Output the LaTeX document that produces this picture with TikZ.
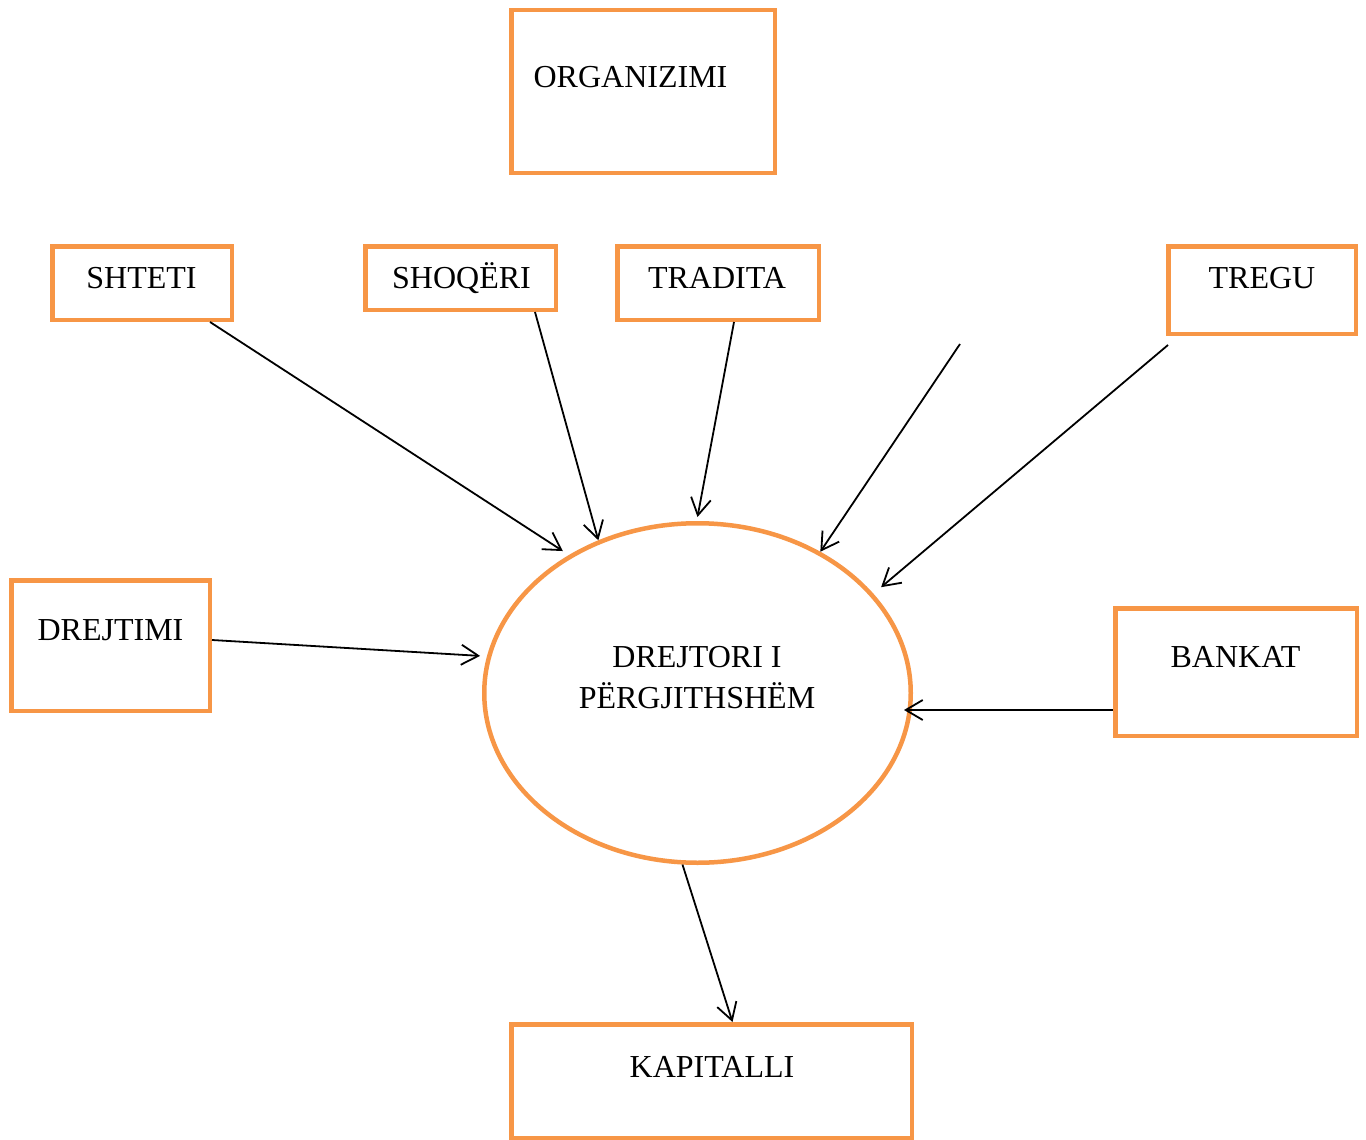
\documentclass[tikz,border=0pt]{standalone}
\usepackage{fontspec}
\setmainfont{Liberation Serif}
\usetikzlibrary{arrows.meta,shapes.geometric}
\definecolor{boxorange}{HTML}{F79646}
\begin{document}
\begin{tikzpicture}[x=1pt,y=-1pt,
	box/.style={draw=boxorange,line width=4.5pt,rectangle,inner sep=0pt},
	txt/.style={anchor=base,inner sep=0pt,font=\fontsize{32}{41}\selectfont},
	conn/.style={line width=1.8pt,-{Straight Barb[length=17pt,width=20pt]}}]
	\useasboundingbox[fill=white] (0,0) rectangle (1366,1140);
	% boxes
	\node[box,minimum width=263.5pt,minimum height=162.5pt] (organizimi) at (643,91.5) {};
	\node[box,minimum width=179.5pt,minimum height=73.5pt] (shteti) at (142,283) {};
	\node[box,minimum width=190.5pt,minimum height=63.5pt] (shoqeri) at (460.5,278) {};
	\node[box,minimum width=201.5pt,minimum height=73.5pt] (tradita) at (718,283) {};
	\node[box,minimum width=187.5pt,minimum height=87.5pt] (tregu) at (1262,290) {};
	\node[box,minimum width=198.5pt,minimum height=130.5pt] (drejtimi) at (110.5,645.5) {};
	\node[box,minimum width=241.5pt,minimum height=127.5pt] (bankat) at (1236,672) {};
	\node[box,minimum width=400.5pt,minimum height=113.5pt] (kapitalli) at (711.5,1081) {};
	\node[draw=boxorange,line width=4.5pt,ellipse,inner sep=0pt,
	  minimum width=426.5pt,minimum height=339.5pt] (drejtori) at (697.5,693) {};
	% texts
	\node[txt] (organizimi-t) at (630.5,87.6) {ORGANIZIMI};
	\node[txt] (shteti-t) at (141.5,288) {SHTETI};
	\node[txt] (shoqeri-t) at (461.5,288) {SHOQËRI};
	\node[txt] (tradita-t) at (717,288) {TRADITA};
	\node[txt] (tregu-t) at (1262,288) {TREGU};
	\node[txt] (drejtimi-t) at (110.5,640.6) {DREJTIMI};
	\node[txt] (bankat-t) at (1235.5,667.6) {BANKAT};
	\node[txt] (kapitalli-t) at (712,1077.6) {KAPITALLI};
	\node[txt,anchor=center,align=center] (drejtori-t) at (697,677.5)
	  {DREJTORI I\\PËRGJITHSHËM};
	% connectors
	\coordinate (free) at (960,344);
	\draw[conn] ([xshift=68pt]shteti.south) -- ([xshift=-6pt,yshift=4pt]drejtori.133);
	\draw[conn] ([xshift=74.5pt]shoqeri.south) -- (drejtori.123.6);
	\draw[conn] ([xshift=16pt]tradita.south) -- ([yshift=4pt]drejtori.90);
	\draw[conn] (free) -- (drejtori.49.6);
	\draw[conn] ([xshift=2pt,yshift=-9pt]tregu.south west) -- ([xshift=9pt,yshift=5pt]drejtori.30);
	\draw[conn] ([yshift=5.5pt]drejtimi.east) -- ([xshift=-7pt]drejtori.170.1);
	\draw[conn] ([yshift=-38pt]bankat.west) -- ([xshift=-9pt,yshift=-17pt]drejtori.east);
	\draw[conn] (drejtori.-95.9) -- ([xshift=21pt]kapitalli.north);
\end{tikzpicture}
\end{document}
